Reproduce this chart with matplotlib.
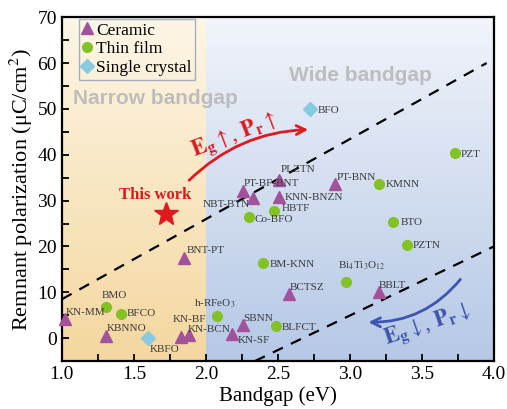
import numpy as np
import matplotlib
matplotlib.use('Agg')
import matplotlib.pyplot as plt
from matplotlib.patches import FancyArrowPatch
from matplotlib.colors import LinearSegmentedColormap
from matplotlib.ticker import MultipleLocator

plt.rcParams['font.family'] = ['Liberation Serif', 'DejaVu Serif']
plt.rcParams['mathtext.fontset'] = 'stix'

# Data
ceramic_x = [1.02, 1.31, 1.83, 1.88, 2.18, 2.26, 2.58, 3.20, 1.85, 2.26, 2.33, 2.51, 2.51, 2.90]
ceramic_y = [4.2, 0.5, 0.2, 0.7, 0.9, 2.8, 9.6, 10.0, 17.4, 32.2, 30.5, 34.6, 30.7, 33.6]

film_x = [1.31, 1.41, 2.08, 2.49, 2.40, 2.97, 2.30, 2.47, 3.20, 3.30, 3.40, 3.73]
film_y = [6.8, 5.2, 4.8, 2.6, 16.3, 12.2, 26.4, 27.7, 33.6, 25.3, 20.3, 40.3]

crystal_x = [2.72, 1.60]
crystal_y = [49.9, 0.0]

this_work_x = [1.72]
this_work_y = [27.0]

label_names = ['KN-MM', 'BMO', 'BFCO', 'KBNNO', 'KBFO', r'h-RFeO$_3$', 'KN-BF', 'KN-BCN',
               'SBNN', 'KN-SF', 'BLFCT', 'BCTSZ', 'BM-KNN', r'Bi$_4$Ti$_3$O$_{12}$', 'BBLT',
               'BNT-PT', 'NBT-BTN', 'Co-BFO', 'HBTF', 'KNN-BNZN', 'PT-BF-BNT', 'PLZTN',
               'PT-BNN', 'KMNN', 'BTO', 'PZTN', 'PZT', 'BFO']
label_x = [1.03, 1.28, 1.45, 1.31, 1.61, 1.92, 1.77, 1.875,
           2.26, 2.22, 2.53, 2.58, 2.44, 2.92, 3.20,
           1.87, 1.98, 2.34, 2.53, 2.55, 2.26, 2.52,
           2.91, 3.25, 3.35, 3.44, 3.77, 2.78]
label_y = [5.7, 9.4, 5.4, 2.2, -2.4, 7.6, 4.1, 2.0,
           4.4, -0.4, 2.4, 11.1, 16.1, 15.7, 11.5,
           19.2, 29.2, 25.9, 28.3, 30.7, 33.8, 36.8,
           35.1, 33.6, 25.3, 20.3, 40.1, 49.7]

# dashed guide lines (endpoints)
upper_line_x = [1.0, 3.95]
upper_line_y = [8.5, 60.0]
lower_line_x = [2.34, 4.0]
lower_line_y = [-5.0, 20.0]

fig = plt.figure(figsize=(5.07, 4.09), dpi=100)
ax = fig.add_axes([0.122, 0.117, 0.852, 0.841])
ax.set_xlim(1.0, 4.0)
ax.set_ylim(-5, 70)

# gradient backgrounds
grad = np.linspace(0, 1, 256).reshape(-1, 1)
yellow = LinearSegmentedColormap.from_list('yel', ['#f4d79f', '#fdf6e6'])
blue = LinearSegmentedColormap.from_list('blu', ['#b5c8e6', '#f1f4fa'])
ax.imshow(grad, cmap=yellow, extent=[1.0, 2.0, -5, 70], origin='lower',
          aspect='auto', zorder=0)
ax.imshow(grad, cmap=blue, extent=[2.0, 4.0, -5, 70], origin='lower',
          aspect='auto', zorder=0)

ax.text(1.076, 52.3, 'Narrow bandgap', family='Liberation Sans', fontweight='bold',
        fontsize=15, color='#bdbdbd', va='center', zorder=1)
ax.text(2.58, 57.3, 'Wide bandgap', family='Liberation Sans', fontweight='bold',
        fontsize=15, color='#bdbdbd', va='center', zorder=1)

ax.plot(upper_line_x, upper_line_y, '--', color='black', lw=1.6, dashes=(5, 4), zorder=2)
ax.plot(lower_line_x, lower_line_y, '--', color='black', lw=1.6, dashes=(5, 4), zorder=2)

ax.plot(ceramic_x, ceramic_y, '^', color='#a4519c', markersize=9, ls='none',
        label='Ceramic', zorder=4, clip_on=False)
ax.plot(film_x, film_y, 'o', color='#82c225', markersize=7, ls='none',
        label='Thin film', zorder=4)
ax.plot(crystal_x, crystal_y, 'D', color='#86cbe2', markersize=7, ls='none',
        label='Single crystal', zorder=4)
ax.plot(this_work_x, this_work_y, '*', color='#e0191e', markersize=18, ls='none', zorder=5)

for name, lx, ly in zip(label_names, label_x, label_y):
    ax.text(lx, ly, name, fontsize=8, color='#3a3a3a', va='center', ha='left', zorder=5)

ax.text(1.65, 31.2, 'This work', color='#e0191e', fontsize=12, fontweight='bold',
        ha='center', va='center', zorder=5)

# curved arrows
red_arrow = FancyArrowPatch((1.87, 34.0), (2.73, 45.5), connectionstyle='arc3,rad=-0.2',
                            arrowstyle='->', mutation_scale=16, color='#e0191e', lw=2, zorder=5)
ax.add_patch(red_arrow)
ax.text(2.20, 44.2, r'$\mathbf{E_g}\uparrow$, $\mathbf{P_r}\uparrow$', color='#e0191e',
        fontsize=16, rotation=21, ha='center', va='center', zorder=5)

blue_arrow = FancyArrowPatch((3.78, 13.3), (3.11, 3.5), connectionstyle='arc3,rad=-0.25',
                             arrowstyle='->', mutation_scale=16, color='#3d55b0', lw=2, zorder=5)
ax.add_patch(blue_arrow)
ax.text(3.54, 2.8, r'$\mathbf{E_g}\downarrow$, $\mathbf{P_r}\downarrow$', color='#3d55b0',
        fontsize=16, rotation=19, ha='center', va='center', zorder=5)

ax.set_xlabel('Bandgap (eV)', fontsize=15, labelpad=2)
ax.set_ylabel('Remnant polarization (\u03bcC/cm$^2$)', fontsize=16, labelpad=2)

ax.xaxis.set_major_locator(MultipleLocator(0.5))
ax.xaxis.set_minor_locator(MultipleLocator(0.25))
ax.yaxis.set_major_locator(MultipleLocator(10))
ax.yaxis.set_minor_locator(MultipleLocator(5))
ax.tick_params(which='both', direction='in', labelsize=14, width=1.3, colors='black')
ax.tick_params(which='major', length=5)
ax.tick_params(which='minor', length=5)
for s in ax.spines.values():
    s.set_linewidth(1.6)

leg = ax.legend(loc='upper left', bbox_to_anchor=(0.035, 1.0), fontsize=12.5,
                handlelength=0.6, handletextpad=0.2, borderpad=0.2, labelspacing=0.15,
                borderaxespad=0.1, fancybox=False, frameon=True)
leg.get_frame().set_facecolor('none')
leg.get_frame().set_edgecolor('#8d9fba')
leg.get_frame().set_linewidth(1.0)

fig.savefig('out.png', dpi=100)
